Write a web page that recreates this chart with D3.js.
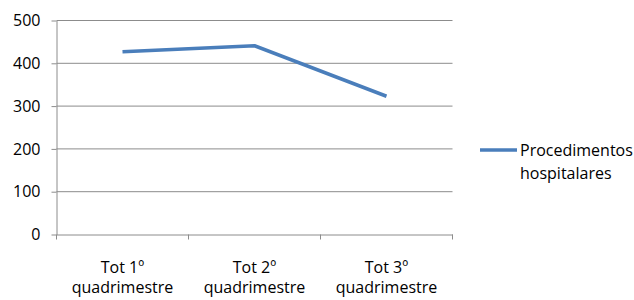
<!DOCTYPE html>
<html lang="pt">
<head>
<meta charset="utf-8">
<script src="https://cdn.jsdelivr.net/npm/d3@7"></script>
<style>
  body { margin: 0; background: #fff; }
  text { font-family: "Open Sans", sans-serif; fill: #000; }
</style>
</head>
<body>
<script>
// chart data
const categories = ["Tot 1º quadrimestre", "Tot 2º quadrimestre", "Tot 3º quadrimestre"];
const seriesName = "Procedimentos hospitalares";
const values = [427, 441, 323];
const yTicks = [0, 100, 200, 300, 400, 500];

const w = 634, h = 300;
const plotLeft = 56.5, plotRight = 452.5, plotTop = 20.5, plotBottom = 234.5;

const svg = d3.select("body").append("svg")
    .attr("width", w)
    .attr("height", h);

let x = d3.scaleBand()
    .domain(categories)
    .range([plotLeft, plotRight]);

let y = d3.scaleLinear()
    .domain([0, 500])
    .range([plotBottom, plotTop]);

// gridlines
svg.append("g")
    .selectAll("line")
    .data(yTicks.filter(d => d > 0))
    .join("line")
    .attr("x1", plotLeft)
    .attr("x2", plotRight)
    .attr("y1", d => y(d))
    .attr("y2", d => y(d))
    .attr("stroke", "#8c8c8c")
    .attr("stroke-width", 1);

// y axis
let yAxis = svg.append("g")
    .attr("transform", `translate(${plotLeft},0)`)
    .call(d3.axisLeft(y).tickValues(yTicks).tickSize(5).tickPadding(11).tickSizeOuter(0));
yAxis.selectAll("line, path").attr("stroke", "#8c8c8c");
yAxis.selectAll("text").style("font-size", "16px").style("font-family", "Open Sans");

// x axis
let xAxis = svg.append("g")
    .attr("transform", `translate(0,${plotBottom})`)
    .call(d3.axisBottom(x).tickSize(0).tickFormat(""));
xAxis.selectAll("path").attr("stroke", "#8c8c8c");

// category boundary ticks
svg.append("g")
    .selectAll("line")
    .data(d3.range(categories.length + 1))
    .join("line")
    .attr("x1", i => plotLeft + i * x.bandwidth())
    .attr("x2", i => plotLeft + i * x.bandwidth())
    .attr("y1", plotBottom)
    .attr("y2", plotBottom + 5)
    .attr("stroke", "#8c8c8c");

// category labels on two lines
categories.forEach(c => {
    let first = c.replace(" quadrimestre", "");
    let t = svg.append("text")
        .attr("text-anchor", "middle")
        .style("font-size", "16px");
    t.append("tspan")
        .attr("x", x(c) + x.bandwidth() / 2)
        .attr("y", 273)
        .text(first);
    t.append("tspan")
        .attr("x", x(c) + x.bandwidth() / 2)
        .attr("y", 293)
        .text("quadrimestre");
});

// line
let line = d3.line()
    .x((d, i) => x(categories[i]) + x.bandwidth() / 2)
    .y(d => y(d));

svg.append("path")
    .datum(values)
    .attr("d", line)
    .attr("fill", "none")
    .attr("stroke", "#4a7ebb")
    .attr("stroke-width", 3.5)
    .attr("stroke-linejoin", "round");

// legend
let legend = svg.append("g");
legend.append("line")
    .attr("x1", 480)
    .attr("x2", 517)
    .attr("y1", 150)
    .attr("y2", 150)
    .attr("stroke", "#4a7ebb")
    .attr("stroke-width", 3.5);

let lt = legend.append("text").style("font-size", "16px");
lt.append("tspan").attr("x", 520).attr("y", 156).text("Procedimentos");
lt.append("tspan").attr("x", 520).attr("y", 179).text("hospitalares");
</script>
</body>
</html>
